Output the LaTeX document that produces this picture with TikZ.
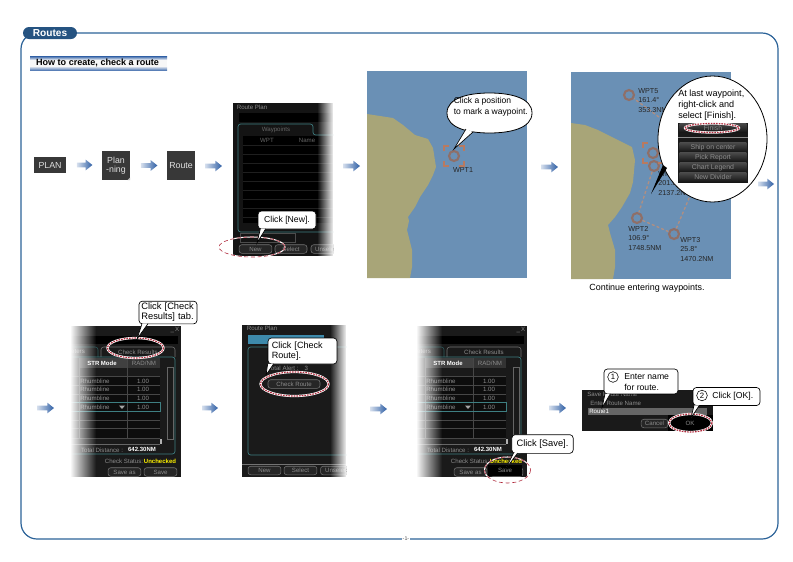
\documentclass[tikz,border=0pt]{standalone}
\usepackage{fontspec}
\setmainfont{Liberation Sans}
\usetikzlibrary{calc,fadings}
\definecolor{framecol}{HTML}{2B6298}
\definecolor{seacol}{HTML}{6A90B5}
\definecolor{landcol}{HTML}{A8A578}
\definecolor{panelcol}{HTML}{1A1A1A}
\definecolor{uigray}{HTML}{8C8C8C}
\definecolor{tealcol}{HTML}{3E7F82}
\definecolor{wptcol}{HTML}{8F6F68}
\definecolor{bracketcol}{HTML}{B87A60}
\definecolor{arrowcol}{HTML}{2F5FA5}
\definecolor{ringred}{HTML}{B02A3C}
\definecolor{legcol}{HTML}{B08F82}
\tikzset{
    softkey/.style={fill=black!78,text=black!12,font=\fontsize{6.6}{7.4}\selectfont,inner sep=0pt,align=center},
    uitext/.style={font=\fontsize{4.6}{5.2}\selectfont,text=uigray,inner sep=0pt},
    uibold/.style={font=\fontsize{4.5}{5.2}\selectfont\bfseries,text=white,inner sep=0pt},
    uibutton/.style={uitext,draw=black!55,fill=black!85,rounded corners=2pt,minimum height=6.4pt},
    callbox/.style={draw=black,fill=white,line width=.5pt,rounded corners=2.5pt,inner sep=0pt,align=left,font=\fontsize{6.5}{7.6}\selectfont},
    calltail/.style={draw=black,fill=white,line width=.5pt},
    callbubble/.style={draw=black,fill=white,line width=.6pt},
    calltext/.style={inner sep=0pt,align=left,font=\fontsize{6.4}{8.2}\selectfont},
    ringthin/.style={draw=ringred,line width=.45pt,densely dashed,preaction={draw=white,line width=.8pt}},
    ringbold/.style={draw=ringred,line width=.9pt,dash pattern=on 1.2pt off .8pt,preaction={draw=white,line width=1.7pt}},
    wptmark/.style={circle,draw=wptcol,line width=1.6pt,minimum size=7.5pt,inner sep=0pt},
    wptlabel/.style={inner sep=0pt,align=left,text=black!85,font=\fontsize{5.4}{7.2}\selectfont},
    routeleg/.style={draw=legcol,line width=1pt,dash pattern=on 2.2pt off 1.6pt},
    bracket/.style={draw=bracketcol,line width=1pt},
    menuitem/.style={top color=black!72,bottom color=black!92,text=black!45,inner sep=0pt,minimum width=50pt,minimum height=6.8pt,font=\fontsize{5.2}{6}\selectfont},
    flowshade/.style={left color=arrowcol!20,middle color=arrowcol!90,right color=arrowcol},
    pics/chartmap/.style={code={
        \fill[seacol] (0,0) rectangle (160,207);
        \fill[landcol] #1 -- (0,207) -- cycle;
    }},
    pics/cursormark/.style={code={
        \draw[bracket] (-10,-5) -- (-10,-10) -- (-5,-10);
        \draw[bracket] (5,-10) -- (10,-10) -- (10,-5);
        \draw[bracket] (-10,5) -- (-10,10) -- (-5,10);
        \draw[bracket] (5,10) -- (10,10) -- (10,5);
    }},
    pics/checkpanel/.style={code={
        \fill[panelcol] (0,0) rectangle (111,151);
        \fill[black] (0,10) rectangle (108,18);
        \node[uitext] (closemark) at (105,4) {\_\,X};
        \draw[tealcol!70!black,line width=.4pt,rounded corners=2pt] (0,21) -- (28,21) -- (28,31);
        \draw[black!55,line width=.4pt,rounded corners=2pt] (31,31) -- (31,21) -- (105,21) -- (105,31);
        \draw[tealcol,line width=.5pt,rounded corners=2pt] (0,31) -- (105,31) -- (105,128) -- (0,128);
        \node[uitext] (paratab) at (8,26) {eters};
        \node[uitext] (resulttab) at (68,26) {Check Results};
        \fill[black!75] (9,32) rectangle (57,42);
        \fill[black!80] (57,32) rectangle (90,42);
        \node[uibold] (strhead) at (32,37) {STR Mode};
        \node[uitext] (radhead) at (74,37) {RAD/NM};
        \fill[black!95] (0,50) rectangle (90,112);
        \foreach \y in {50,59,68,76,85,94,102,112}
            \draw[black!72,line width=.3pt] (0,\y) -- (90,\y);
        \draw[black!72,line width=.3pt] (9,32) -- (9,112);
        \draw[black!72,line width=.3pt] (57,32) -- (57,112);
        \foreach \y [count=\n] in {55,63,72,81} {
            \node[uitext,anchor=west] (strrow\n) at (10,\y) {Rhumbline};
            \node[uitext] (radrow\n) at (73,\y) {1.00};
        }
        \draw[tealcol,line width=.4pt] (0,76.5) rectangle (90,85.5);
        \fill[black!35] (49,79.5) -- (55,79.5) -- (52,83) -- cycle;
        \draw[black!60,line width=.3pt] (97,41) rectangle (103,113);
        \fill[black!30] (90,113) rectangle (92,118);
        \draw[black!60,line width=.3pt] (0,118) -- (90,118);
        \node[uitext] (totaltext) at (32,124) {Total Distance :};
        \node[uibold] (totalvalue) at (72,123.5) {642.30NM};
        \node[uitext] (statustext) at (54,135) {Check Status:};
        \node[uibold,text=yellow] (statusvalue) at (90,135) {Unchecked};
        \node[uibutton,minimum width=24.7pt] (saveasbtn) at (54.5,146) {Save as};
        \node[uibutton,minimum width=24.7pt] (savebtn) at (90.5,146) {Save};
        \fill[white,path fading=east] (0,0) rectangle (26,151);
    }}
}
\newcommand{\flowarrow}[2]{%
    \path[flowshade] let \p1=#1, \p2=#2 in (\x1,\y1+1.7pt) -- (\x2-5pt,\y1+1.7pt) -- (\x2-5pt,\y1+4pt) -- (\x2,\y1) -- (\x2-5pt,\y1-4pt) -- (\x2-5pt,\y1-1.7pt) -- (\x1,\y1-1.7pt) -- cycle;
}
\begin{document}
\begin{tikzpicture}[x=0.75pt,y=-0.75pt]
    \useasboundingbox (0,0) rectangle (793,561);

    % frame and headings
    \draw[framecol,line width=.9pt,rounded corners=12pt] (21,33) rectangle (778,539);
    \node[fill=framecol!85!black,text=white,rounded corners=4.5pt,minimum width=40.5pt,minimum height=9pt,inner sep=0pt,font=\fontsize{7.6}{8}\selectfont\bfseries] (routes) at (50,33) {Routes};
    \fill[black!3] (30,56) rectangle (167,70);
    \shade[top color=arrowcol,bottom color=black!3] (30,56) rectangle (167,60);
    \shade[top color=black!3,bottom color=arrowcol!80] (30,66) rectangle (167,70);
    \node[inner sep=0pt,font=\fontsize{6.8}{8}\selectfont\bfseries] (howto) at (97.5,63) {How to create, check a route};
    \node[fill=white,inner sep=.6pt,text=black!70,font=\fontsize{4}{4}\selectfont] (pageno) at (406,539) {-1-};

    % soft keys
    \node[softkey,minimum width=24pt,minimum height=12pt] (plan) at (50,165) {PLAN};
    \node[softkey,minimum width=21pt,minimum height=22pt] (planning) at (116,165.5) {Plan\\[-1pt]-ning};
    \fill[black!25] (130,180) -- (127.5,180) -- (130,177.5) -- cycle;
    \node[softkey,minimum width=21pt,minimum height=22pt] (route) at (181,165.5) {Route};

    % route plan panel
    \begin{scope}
        \clip (233,103) rectangle (333,256);
        \fill[black!92] (233,103) rectangle (333,256);
        \node[uitext] (plantitle) at (252,107) {Route Plan};
        \fill[black] (239,113) rectangle (333,122);
        \draw[tealcol,line width=.5pt,rounded corners=2pt] (333,135) -- (313,135) -- (313,124) -- (238,124) -- (238,232) -- (333,232);
        \fill[black] (243,136) rectangle (333,223);
        \node[uitext,text=black!60] (wayptstab) at (276,129.5) {Waypoints};
        \node[uitext,text=black!60] (wpthead) at (267,140) {WPT};
        \node[uitext,text=black!60] (namehead) at (307,140) {Name};
        \foreach \y in {145,154,163,172,181,190,199,208,217}
            \draw[black!88,line width=.25pt] (243,\y) -- (333,\y);
        \draw[black!70,line width=.3pt] (240,233) rectangle (295,242);
        \node[uibutton,minimum width=24.7pt] (newbtn) at (255.5,249) {New};
        \node[uibutton,minimum width=24pt] (selectbtn) at (291,249) {Select};
        \node[uibutton,minimum width=24pt] (unselbtn) at (327,249) {Unselect};
        \fill[white,path fading=west] (317,103) rectangle (334,256);
    \end{scope}
    \draw[ringthin] (252,247) ellipse [x radius=33,y radius=10];
    \node[callbox,minimum width=43.5pt,minimum height=13.5pt,align=center] (clicknew) at (287,220) {Click [New].};
    \coordinate (newtip) at (257,243);
    \draw[calltail] ([xshift=2pt,yshift=.4pt]clicknew.south west) -- (newtip) -- ([xshift=6pt,yshift=.4pt]clicknew.south west);

    % first chart
    \pic (firstmap) at (367,71) {chartmap={(0,43) -- (13,45) -- (26,47) -- (36,54) -- (48,64) -- (61,68) -- (66,77) -- (69,96) -- (66,104) -- (61,114) -- (53,126) -- (48,136) -- (41,146) -- (42,150) -- (40,159) -- (45,179) -- (45,196) -- (43,207)}};
    \node[wptmark] (wpt1) at (454,156) {};
    \pic (firstcursor) at (454,156) {cursormark};
    \node[wptlabel] (wpt1label) at (463,170) {WPT1};
    \draw[callbubble] (447,113) .. controls (447,98) and (468,93) .. (489.5,93) .. controls (511,93) and (532,98) .. (532,113) .. controls (532,128) and (511,133) .. (489.5,133) .. controls (468,133) and (447,128) .. (447,113) -- cycle;
    \coordinate (firsttip) at (454,149);
    \draw[calltail] (466,129) -- (firsttip) -- (473,132);
    \node[calltext,anchor=west] (firsttext) at (453.5,106.5) {Click a position\\to mark a waypoint.};

    % second chart
    \pic (secondmap) at (571,72) {chartmap={(0,51) -- (14,53) -- (27,58) -- (37,63) -- (51,70) -- (61,75) -- (64,88) -- (62,110) -- (59,121) -- (51,135) -- (44,145) -- (37,153) -- (39,161) -- (44,178) -- (44,195) -- (42,207)}};
    \node[wptmark] (wpt5) at (629,95) {};
    \node[wptmark] (wpt1b) at (654,166) {};
    \node[wptmark] (wpt2) at (637,218) {};
    \node[wptmark] (wpt3) at (674,234) {};
    \node[wptmark] (cursorwpt) at (653,153) {};
    \coordinate (wpt4) at (708,153);
    \pic (secondcursor) at (653,153) {cursormark};
    \draw[routeleg] (wpt1b) -- (wpt2);
    \draw[routeleg] (wpt2) -- (wpt3);
    \draw[routeleg] (wpt3) -- (wpt4);
    \draw[routeleg] (wpt4) -- (wpt5);
    \node[wptlabel,anchor=north west] (wpt5label) at (638,88) {WPT5\\161.4°\\353.3NM};
    \node[wptlabel,anchor=north west] (wpt1blabel) at (658,171) {WPT1\\201.5°\\2137.2NM};
    \node[wptlabel,anchor=north west] (wpt2label) at (628,226) {WPT2\\106.9°\\1748.5NM};
    \node[wptlabel,anchor=north west] (wpt3label) at (680,237) {WPT3\\25.8°\\1470.2NM};
    \draw[callbubble] (712.5,139) ellipse [x radius=54.5,y radius=63];
    \coordinate (lasttip) at (651,194);
    \fill[black] (663,165) -- (lasttip) -- (667,168) -- cycle;
    \node[inner sep=0pt,align=left,anchor=north west,font=\fontsize{6.8}{8.2}\selectfont] (lasttext) at (678,89.5) {At last waypoint,\\right-click and\\select [Finish].};
    \fill[black!90] (678,123) rectangle (748,183);
    \node[menuitem] (finishitem) at (713,128) {Finish};
    \draw[black!45,line width=.7pt] (678,137) -- (748,137);
    \foreach \t/\y [count=\n] in {Ship on center/147.5,Pick Report/157.5,Chart Legend/167.5,New Divider/177.5}
        \node[menuitem] (menurow\n) at (713,\y) {\t};
    \draw[ringbold] (712,128) ellipse [x radius=27,y radius=4.5];
    \node[inner sep=0pt,font=\fontsize{6.7}{8}\selectfont] (continuetext) at (647,288) {Continue entering waypoints.};

    % check results panel
    \pic (resultpanel) at (70,326) {checkpanel};
    \draw[ringbold] (135.5,348) ellipse [x radius=28,y radius=10];
    \node[callbox,minimum width=43.5pt,minimum height=17pt,text width=40pt,font=\fontsize{7}{7.6}\selectfont] (clickresults) at (168,312.5) {Click [Check\\Results] tab.};
    \coordinate (resultstip) at (137,339);
    \draw[calltail] ([xshift=2.5pt,yshift=.4pt]clickresults.south west) -- (resultstip) -- ([xshift=7pt,yshift=.4pt]clickresults.south west);

    % check route panel
    \begin{scope}
        \clip (242,325) rectangle (346,477);
        \fill[panelcol] (242,325) rectangle (346,477);
        \node[uitext] (routetitle) at (262,328) {Route Plan};
        \fill[cyan!65!black] (248,335) rectangle (324,344);
        \draw[tealcol,line width=.5pt,rounded corners=2pt] (346,347) -- (248,347) -- (248,455) -- (346,455);
        \node[uitext] (alerttext) at (288,368) {Total Alert :\quad 3};
        \node[uibutton,minimum width=39pt] (checkbtn) at (294,384) {Check Route};
        \draw[black!55,line width=.3pt] (242,464) -- (346,464);
        \node[uibutton,minimum width=24.7pt] (newbtnb) at (264.5,470.5) {New};
        \node[uibutton,minimum width=24.7pt] (selectbtnb) at (300.5,470.5) {Select};
        \node[uibutton,minimum width=24.7pt] (unselbtnb) at (337,470.5) {Unselect};
        \fill[white,path fading=west] (330,325) rectangle (347,477);
    \end{scope}
    \draw[ringbold] (294.5,384) ellipse [x radius=34,y radius=12];
    \node[callbox,minimum width=51.7pt,minimum height=19.5pt,text width=46pt,font=\fontsize{6.8}{7.6}\selectfont] (clickcheck) at (302.5,351) {Click [Check\\Route].};
    \coordinate (checktip) at (266,375);
    \draw[calltail] ([yshift=.4pt]clickcheck.south west) -- (checktip) -- ([xshift=4.5pt,yshift=.4pt]clickcheck.south west);

    % save panel
    \pic (savepanel) at (416,326) {checkpanel};
    \fill[black] (488,465) rectangle (522,476);
    \node[uitext] (savekey) at (505,470.5) {Save};
    \draw[ringthin] (507.5,470) ellipse [x radius=23,y radius=13];
    \node[callbox,minimum width=46pt,minimum height=14pt,align=center,font=\fontsize{7}{7.6}\selectfont] (clicksave) at (542.5,444) {Click [Save].};
    \coordinate (savetip) at (505,470);
    \draw[calltail] ([xshift=1.5pt,yshift=.4pt]clicksave.south west) -- (savetip) -- ([xshift=4.5pt,yshift=.4pt]clicksave.south west);

    % save dialog
    \fill[panelcol] (582,390) rectangle (713,431);
    \node[uitext,anchor=west] (savetitle) at (587,394) {Save Route Name};
    \node[uitext,anchor=west] (entertitle) at (590,403) {Enter Route Name};
    \fill[black!60] (588,408) rectangle (707,415);
    \node[uitext,text=white,anchor=west] (routename) at (589,411.5) {Route1};
    \node[uibutton,minimum width=20pt] (cancelbtn) at (654.5,423.5) {Cancel};
    \fill[black] (668,415) rectangle (713,431);
    \node[uitext] (okkey) at (690,423.5) {OK};
    \draw[ringbold] (690.5,423) ellipse [x radius=21.5,y radius=9];
    \node[callbox,minimum width=55.5pt,minimum height=18.7pt] (namebox) at (641,381.5) {};
    \coordinate (nametip) at (602,408);
    \draw[calltail] ([xshift=1pt,yshift=.4pt]namebox.south west) -- (nametip) -- ([xshift=5pt,yshift=.4pt]namebox.south west);
    \node[circle,draw=black,line width=.4pt,inner sep=0pt,minimum size=8pt,font=\fontsize{5.8}{6}\selectfont] (numone) at (613,377) {1};
    \node[inner sep=0pt,align=left,anchor=west,font=\fontsize{6.5}{7.6}\selectfont] (nametext) at (624,382) {Enter name\\for route.};
    \node[callbox,minimum width=50.2pt,minimum height=13.5pt] (okbox) at (726.5,396.5) {};
    \coordinate (oktip) at (691,418);
    \draw[calltail] ([xshift=1pt,yshift=.4pt]okbox.south west) -- (oktip) -- ([xshift=5pt,yshift=.4pt]okbox.south west);
    \node[circle,draw=black,line width=.4pt,inner sep=0pt,minimum size=8pt,font=\fontsize{5.8}{6}\selectfont] (numtwo) at (702,395.5) {2};
    \node[inner sep=0pt,anchor=west,font=\fontsize{6.5}{7.6}\selectfont] (oktext) at (712,396) {Click [OK].};

    % flow arrows
    \flowarrow{([xshift=8pt]plan.east)}{([xshift=-7pt]planning.west)}
    \flowarrow{([xshift=8pt]planning.east)}{([xshift=-7pt]route.west)}
    \foreach \name/\xa/\xb/\y in {a/205/222/166,b/343/360/166,c/541/558/167,d/758/774/184,e/37/54/408,f/202/218/408,g/370/387/409,h/549/566/408} {
        \coordinate (arrow\name start) at (\xa,\y);
        \coordinate (arrow\name end) at (\xb,\y);
        \flowarrow{(arrow\name start)}{(arrow\name end)}
    }
\end{tikzpicture}
\end{document}
